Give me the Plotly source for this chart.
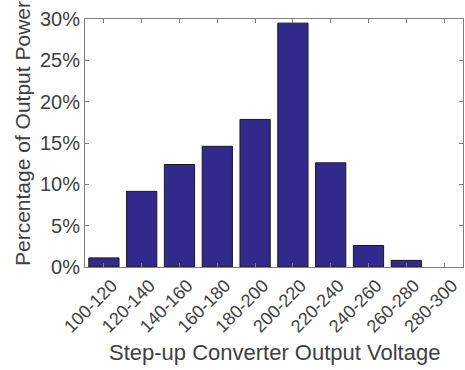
import plotly.graph_objects as go

categories = ["100-120", "120-140", "140-160", "160-180", "180-200",
              "200-220", "220-240", "240-260", "260-280", "280-300"]
percent = [1.1, 9.15, 12.4, 14.6, 17.85, 29.5, 12.6, 2.6, 0.8, 0.0]
y_ticks = [0, 5, 10, 15, 20, 25, 30]
y_tick_labels = ["0%", "5%", "10%", "15%", "20%", "25%", "30%"]

FONT = "Liberation Sans, Arial"
TXT = "#404040"

edge_widths = [1 if v > 0 else 0 for v in percent]

fig = go.Figure(go.Bar(
    x=categories, y=percent,
    marker=dict(color="#33298C", line=dict(color="#1a1a1a", width=edge_widths)),
    width=0.8,
))

axis_common = dict(
    showline=True, linecolor="#808080", linewidth=1, mirror="ticks",
    ticks="inside", ticklen=4, tickcolor="#808080", showgrid=False, zeroline=False,
    automargin=False,
)

PL, PT, PB, PR = 85, 19, 103, 2
plot_h = 370 - PT - PB
plot_w = 465 - PL - PR

fig.update_layout(
    width=465, height=370,
    margin=dict(l=PL, r=PR, t=PT, b=PB),
    paper_bgcolor="white", plot_bgcolor="white",
    showlegend=False,
    xaxis=dict(**axis_common, tickangle=-45, range=[-0.5, 9.5], ticklabelshift=8,
               tickfont=dict(family=FONT, size=18, color=TXT)),
    yaxis=dict(**axis_common, range=[0, 30], tickvals=y_ticks, ticktext=y_tick_labels,
               tickfont=dict(family=FONT, size=20, color=TXT)),
    annotations=[
        dict(text="Step-up Converter Output Voltage", xref="paper", yref="paper",
             x=0.5, y=-(352 - (370 - PB)) / plot_h, xanchor="center", yanchor="middle",
             showarrow=False, font=dict(family=FONT, size=22, color=TXT)),
        dict(text="Percentage of Output Power", xref="paper", yref="paper",
             x=(22 - PL) / plot_w, y=((370 - PB) - 134) / plot_h, textangle=-90,
             xanchor="center", yanchor="middle",
             showarrow=False, font=dict(family=FONT, size=21, color=TXT)),
    ],
)

fig.write_html("out.html")
